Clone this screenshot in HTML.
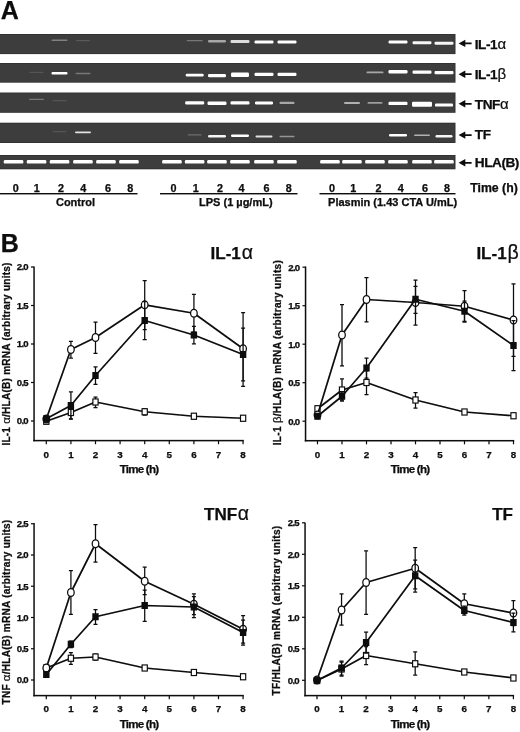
<!DOCTYPE html><html><head><meta charset="utf-8"><title>Figure</title>
<style>html,body{margin:0;padding:0;background:#fff;}body{width:520px;height:732px;overflow:hidden;}svg{display:block;}text{font-family:"Liberation Sans",sans-serif;fill:#0a0a0a;stroke:#0a0a0a;stroke-width:0.25px;}.b{font-weight:bold;}.g{font-weight:normal;stroke-width:0.2px;}</style></head><body>
<svg width="520" height="732" viewBox="0 0 520 732">
<defs><filter id="bl" x="-20%" y="-100%" width="140%" height="300%"><feGaussianBlur stdDeviation="0.7 0.6"/></filter><filter id="bl2" x="-5%" y="-20%" width="110%" height="140%"><feGaussianBlur stdDeviation="0.35"/></filter><filter id="tb" x="0" y="0" width="100%" height="100%" filterUnits="userSpaceOnUse"><feGaussianBlur stdDeviation="0.32"/></filter></defs>
<rect width="520" height="732" fill="#fff"/>
<g filter="url(#tb)">
<text class="b" x="0.8" y="19.1" font-size="25" stroke="#0a0a0a" stroke-width="0.5">A</text>
<rect x="0" y="34" width="455.5" height="20.1" fill="#323232"/>
<rect x="0" y="34.9" width="454.7" height="18.3" fill="#3d3d3d"/>
<rect x="0" y="63" width="455.5" height="19.700000000000003" fill="#323232"/>
<rect x="0" y="63.9" width="454.7" height="17.900000000000002" fill="#3d3d3d"/>
<rect x="0" y="92.5" width="455.5" height="20.299999999999997" fill="#323232"/>
<rect x="0" y="93.4" width="454.7" height="18.499999999999996" fill="#3d3d3d"/>
<rect x="0" y="122.7" width="455.5" height="20.299999999999997" fill="#323232"/>
<rect x="0" y="123.60000000000001" width="454.7" height="18.499999999999996" fill="#3d3d3d"/>
<rect x="0" y="155" width="455.5" height="14.300000000000011" fill="#323232"/>
<rect x="0" y="155.9" width="454.7" height="12.50000000000001" fill="#3d3d3d"/>
<rect x="51.5" y="39.50" width="16" height="1.4" rx="0.7" fill="#808080" filter="url(#bl)"/>
<rect x="76.0" y="40.00" width="14" height="1.2" rx="0.6" fill="#5a5a5a" filter="url(#bl)"/>
<rect x="186.7" y="40.05" width="16" height="1.3" rx="0.7" fill="#777777" filter="url(#bl)"/>
<rect x="208.0" y="40.00" width="18" height="2.4" rx="1.2" fill="#a7a7a7" filter="url(#bl)"/>
<rect x="230.5" y="40.10" width="19" height="2.8" rx="1.2" fill="#dcdcdc" filter="url(#bl)"/>
<rect x="254.5" y="40.50" width="19" height="3" rx="1.2" fill="#ffffff" filter="url(#bl)"/>
<rect x="277.5" y="40.50" width="19" height="3" rx="1.2" fill="#ffffff" filter="url(#bl)"/>
<rect x="388.5" y="40.50" width="19" height="3" rx="1.2" fill="#ffffff" filter="url(#bl)"/>
<rect x="412.5" y="41.30" width="19" height="3" rx="1.2" fill="#f5f5f5" filter="url(#bl)"/>
<rect x="434.5" y="41.80" width="19" height="3" rx="1.2" fill="#f5f5f5" filter="url(#bl)"/>
<rect x="29.5" y="71.80" width="14" height="1.2" rx="0.6" fill="#545454" filter="url(#bl)"/>
<rect x="51.5" y="71.90" width="16" height="2.6" rx="1.2" fill="#ffffff" filter="url(#bl)"/>
<rect x="75.5" y="72.80" width="15" height="1.4" rx="0.7" fill="#777777" filter="url(#bl)"/>
<rect x="185.7" y="73.80" width="18" height="2.6" rx="1.2" fill="#ffffff" filter="url(#bl)"/>
<rect x="208.0" y="74.00" width="18" height="3.2" rx="1.2" fill="#ffffff" filter="url(#bl)"/>
<rect x="231.0" y="72.60" width="18" height="4.4" rx="1.2" fill="#ffffff" filter="url(#bl)"/>
<rect x="254.5" y="72.70" width="19" height="3.2" rx="1.2" fill="#ffffff" filter="url(#bl)"/>
<rect x="277.5" y="72.70" width="19" height="3.2" rx="1.2" fill="#ffffff" filter="url(#bl)"/>
<rect x="366.5" y="71.50" width="17" height="1.8" rx="0.9" fill="#a7a7a7" filter="url(#bl)"/>
<rect x="388.5" y="70.10" width="19" height="3.4" rx="1.2" fill="#ffffff" filter="url(#bl)"/>
<rect x="412.5" y="70.60" width="19" height="3.2" rx="1.2" fill="#ffffff" filter="url(#bl)"/>
<rect x="434.5" y="71.10" width="19" height="3.2" rx="1.2" fill="#ffffff" filter="url(#bl)"/>
<rect x="29.0" y="98.70" width="15" height="1.4" rx="0.7" fill="#777777" filter="url(#bl)"/>
<rect x="52.5" y="100.10" width="14" height="1.2" rx="0.6" fill="#545454" filter="url(#bl)"/>
<rect x="185.2" y="101.30" width="19" height="3.2" rx="1.2" fill="#ffffff" filter="url(#bl)"/>
<rect x="207.5" y="101.50" width="19" height="3.4" rx="1.2" fill="#ffffff" filter="url(#bl)"/>
<rect x="230.5" y="101.30" width="19" height="3.2" rx="1.2" fill="#ffffff" filter="url(#bl)"/>
<rect x="255.0" y="101.40" width="18" height="3" rx="1.2" fill="#ffffff" filter="url(#bl)"/>
<rect x="279.5" y="101.70" width="15" height="2.4" rx="1.2" fill="#a7a7a7" filter="url(#bl)"/>
<rect x="344.0" y="101.90" width="16" height="2" rx="1.0" fill="#b1b1b1" filter="url(#bl)"/>
<rect x="367.5" y="102.00" width="15" height="1.8" rx="0.9" fill="#9e9e9e" filter="url(#bl)"/>
<rect x="388.5" y="101.70" width="19" height="3.4" rx="1.2" fill="#ffffff" filter="url(#bl)"/>
<rect x="412.0" y="101.70" width="20" height="5" rx="1.2" fill="#ffffff" filter="url(#bl)"/>
<rect x="435.0" y="103.40" width="18" height="3.2" rx="1.2" fill="#ffffff" filter="url(#bl)"/>
<rect x="52.5" y="131.10" width="14" height="1.2" rx="0.6" fill="#545454" filter="url(#bl)"/>
<rect x="75.0" y="131.40" width="16" height="1.8" rx="0.9" fill="#e1e1e1" filter="url(#bl)"/>
<rect x="187.7" y="134.25" width="14" height="1.3" rx="0.7" fill="#6d6d6d" filter="url(#bl)"/>
<rect x="208.0" y="135.00" width="18" height="2.4" rx="1.2" fill="#f5f5f5" filter="url(#bl)"/>
<rect x="231.0" y="134.40" width="18" height="2.6" rx="1.2" fill="#ffffff" filter="url(#bl)"/>
<rect x="255.5" y="135.40" width="17" height="2.2" rx="1.1" fill="#e1e1e1" filter="url(#bl)"/>
<rect x="279.5" y="135.70" width="15" height="1.6" rx="0.8" fill="#949494" filter="url(#bl)"/>
<rect x="389.0" y="133.90" width="18" height="2.6" rx="1.2" fill="#ffffff" filter="url(#bl)"/>
<rect x="414.0" y="134.40" width="16" height="1.6" rx="0.8" fill="#b1b1b1" filter="url(#bl)"/>
<rect x="435.5" y="135.00" width="17" height="2.4" rx="1.2" fill="#f5f5f5" filter="url(#bl)"/>
<rect x="3.8" y="160.00" width="19.5" height="3.6" rx="1.2" fill="#ffffff" filter="url(#bl)"/>
<rect x="26.8" y="160.00" width="19.5" height="3.6" rx="1.2" fill="#ffffff" filter="url(#bl)"/>
<rect x="49.8" y="160.00" width="19.5" height="3.6" rx="1.2" fill="#ffffff" filter="url(#bl)"/>
<rect x="73.2" y="160.00" width="19.5" height="3.6" rx="1.2" fill="#ffffff" filter="url(#bl)"/>
<rect x="96.2" y="160.00" width="19.5" height="3.6" rx="1.2" fill="#ffffff" filter="url(#bl)"/>
<rect x="119.2" y="160.00" width="19.5" height="3.6" rx="1.2" fill="#ffffff" filter="url(#bl)"/>
<rect x="162.2" y="160.00" width="19.5" height="3.6" rx="1.2" fill="#ffffff" filter="url(#bl)"/>
<rect x="184.9" y="160.00" width="19.5" height="3.6" rx="1.2" fill="#ffffff" filter="url(#bl)"/>
<rect x="207.2" y="160.00" width="19.5" height="3.6" rx="1.2" fill="#ffffff" filter="url(#bl)"/>
<rect x="230.2" y="160.00" width="19.5" height="3.6" rx="1.2" fill="#ffffff" filter="url(#bl)"/>
<rect x="254.2" y="160.00" width="19.5" height="3.6" rx="1.2" fill="#ffffff" filter="url(#bl)"/>
<rect x="277.2" y="160.00" width="19.5" height="3.6" rx="1.2" fill="#ffffff" filter="url(#bl)"/>
<rect x="320.2" y="160.00" width="19.5" height="3.6" rx="1.2" fill="#ffffff" filter="url(#bl)"/>
<rect x="342.2" y="160.00" width="19.5" height="3.6" rx="1.2" fill="#ffffff" filter="url(#bl)"/>
<rect x="365.2" y="160.00" width="19.5" height="3.6" rx="1.2" fill="#ffffff" filter="url(#bl)"/>
<rect x="388.2" y="160.00" width="19.5" height="3.6" rx="1.2" fill="#ffffff" filter="url(#bl)"/>
<rect x="412.2" y="160.00" width="19.5" height="3.6" rx="1.2" fill="#ffffff" filter="url(#bl)"/>
<rect x="434.2" y="160.00" width="19.5" height="3.6" rx="1.2" fill="#ffffff" filter="url(#bl)"/>
<path d="M458.6 43.4 L465.3 39.699999999999996 L465.3 42.5 L471.6 42.5 L471.6 44.3 L465.3 44.3 L465.3 47.1 Z" fill="#0a0a0a"/>
<text class="b" x="474.8" y="48.6" font-size="13.6" letter-spacing="-0.45">IL-1<tspan class="g" font-size="15" dx="0.2">α</tspan></text>
<path d="M458.6 74.2 L465.3 70.5 L465.3 73.3 L471.6 73.3 L471.6 75.10000000000001 L465.3 75.10000000000001 L465.3 77.9 Z" fill="#0a0a0a"/>
<text class="b" x="474.8" y="79.2" font-size="13.6" letter-spacing="-0.45">IL-1<tspan class="g" font-size="15" dx="0.2">β</tspan></text>
<path d="M458.6 103.8 L465.3 100.1 L465.3 102.89999999999999 L471.6 102.89999999999999 L471.6 104.7 L465.3 104.7 L465.3 107.5 Z" fill="#0a0a0a"/>
<text class="b" x="474.8" y="109.1" font-size="13.6" letter-spacing="-0.45">TNF<tspan class="g" font-size="15" dx="0.2">α</tspan></text>
<path d="M458.6 135.1 L465.3 131.4 L465.3 134.2 L471.6 134.2 L471.6 136.0 L465.3 136.0 L465.3 138.79999999999998 Z" fill="#0a0a0a"/>
<text class="b" x="474.8" y="138.8" font-size="13.6" letter-spacing="-0.45">TF<tspan class="g" font-size="15" dx="0.2"></tspan></text>
<path d="M458.6 162.8 L465.3 159.10000000000002 L465.3 161.9 L471.6 161.9 L471.6 163.70000000000002 L465.3 163.70000000000002 L465.3 166.5 Z" fill="#0a0a0a"/>
<text class="b" x="474.8" y="167.3" font-size="13.6" letter-spacing="-0.45">HLA(B)<tspan class="g" font-size="15" dx="0.2"></tspan></text>
<text class="b" x="15.8" y="191.8" font-size="10.8" text-anchor="middle">0</text>
<text class="b" x="36.8" y="191.8" font-size="10.8" text-anchor="middle">1</text>
<text class="b" x="61" y="191.8" font-size="10.8" text-anchor="middle">2</text>
<text class="b" x="83.3" y="191.8" font-size="10.8" text-anchor="middle">4</text>
<text class="b" x="108" y="191.8" font-size="10.8" text-anchor="middle">6</text>
<text class="b" x="130.2" y="191.8" font-size="10.8" text-anchor="middle">8</text>
<text class="b" x="173.6" y="191.8" font-size="10.8" text-anchor="middle">0</text>
<text class="b" x="195.8" y="191.8" font-size="10.8" text-anchor="middle">1</text>
<text class="b" x="220" y="191.8" font-size="10.8" text-anchor="middle">2</text>
<text class="b" x="241.5" y="191.8" font-size="10.8" text-anchor="middle">4</text>
<text class="b" x="266.5" y="191.8" font-size="10.8" text-anchor="middle">6</text>
<text class="b" x="288.8" y="191.8" font-size="10.8" text-anchor="middle">8</text>
<text class="b" x="332" y="191.8" font-size="10.8" text-anchor="middle">0</text>
<text class="b" x="353.2" y="191.8" font-size="10.8" text-anchor="middle">1</text>
<text class="b" x="378.6" y="191.8" font-size="10.8" text-anchor="middle">2</text>
<text class="b" x="400.8" y="191.8" font-size="10.8" text-anchor="middle">4</text>
<text class="b" x="425" y="191.8" font-size="10.8" text-anchor="middle">6</text>
<text class="b" x="447" y="191.8" font-size="10.8" text-anchor="middle">8</text>
<text class="b" x="470.2" y="191.6" font-size="12.3">Time (h)</text>
<rect x="0" y="193" width="137.5" height="1.4" fill="#0a0a0a"/>
<rect x="160" y="193" width="137.5" height="1.4" fill="#0a0a0a"/>
<rect x="319.5" y="193" width="136.0" height="1.4" fill="#0a0a0a"/>
<text class="b" x="75.5" y="206.1" font-size="11" text-anchor="middle">Control</text>
<text class="b" x="235.8" y="206.1" font-size="11" text-anchor="middle">LPS (1 µg/mL)</text>
<text class="b" x="392.6" y="206.1" font-size="11" text-anchor="middle">Plasmin (1.43 CTA U/mL)</text>
<text class="b" x="0.8" y="252.4" font-size="25" stroke="#0a0a0a" stroke-width="0.5">B</text>
<rect x="33.3" y="266.5" width="1.5" height="174.8" fill="#0a0a0a"/>
<rect x="33.3" y="439.85" width="210.50000000000003" height="1.5" fill="#0a0a0a"/>
<rect x="31" y="420.40" width="3" height="1.2" fill="#0a0a0a"/>
<text class="b" x="28" y="424.40" font-size="9.6" text-anchor="end" letter-spacing="-0.7" stroke="#0a0a0a" stroke-width="0.3">0.0</text>
<rect x="31" y="381.90" width="3" height="1.2" fill="#0a0a0a"/>
<text class="b" x="28" y="385.90" font-size="9.6" text-anchor="end" letter-spacing="-0.7" stroke="#0a0a0a" stroke-width="0.3">0.5</text>
<rect x="31" y="343.40" width="3" height="1.2" fill="#0a0a0a"/>
<text class="b" x="28" y="347.40" font-size="9.6" text-anchor="end" letter-spacing="-0.7" stroke="#0a0a0a" stroke-width="0.3">1.0</text>
<rect x="31" y="304.90" width="3" height="1.2" fill="#0a0a0a"/>
<text class="b" x="28" y="308.90" font-size="9.6" text-anchor="end" letter-spacing="-0.7" stroke="#0a0a0a" stroke-width="0.3">1.5</text>
<rect x="31" y="266.40" width="3" height="1.2" fill="#0a0a0a"/>
<text class="b" x="28" y="270.40" font-size="9.6" text-anchor="end" letter-spacing="-0.7" stroke="#0a0a0a" stroke-width="0.3">2.0</text>
<rect x="45.70" y="440.6" width="1.2" height="3.6" fill="#0a0a0a"/>
<text class="b" x="46.30" y="457.7" font-size="9.8" text-anchor="middle" stroke="#0a0a0a" stroke-width="0.3">0</text>
<rect x="70.30" y="440.6" width="1.2" height="3.6" fill="#0a0a0a"/>
<text class="b" x="70.90" y="457.7" font-size="9.8" text-anchor="middle" stroke="#0a0a0a" stroke-width="0.3">1</text>
<rect x="94.90" y="440.6" width="1.2" height="3.6" fill="#0a0a0a"/>
<text class="b" x="95.50" y="457.7" font-size="9.8" text-anchor="middle" stroke="#0a0a0a" stroke-width="0.3">2</text>
<rect x="119.50" y="440.6" width="1.2" height="3.6" fill="#0a0a0a"/>
<text class="b" x="120.10" y="457.7" font-size="9.8" text-anchor="middle" stroke="#0a0a0a" stroke-width="0.3">3</text>
<rect x="144.10" y="440.6" width="1.2" height="3.6" fill="#0a0a0a"/>
<text class="b" x="144.70" y="457.7" font-size="9.8" text-anchor="middle" stroke="#0a0a0a" stroke-width="0.3">4</text>
<rect x="168.70" y="440.6" width="1.2" height="3.6" fill="#0a0a0a"/>
<text class="b" x="169.30" y="457.7" font-size="9.8" text-anchor="middle" stroke="#0a0a0a" stroke-width="0.3">5</text>
<rect x="193.30" y="440.6" width="1.2" height="3.6" fill="#0a0a0a"/>
<text class="b" x="193.90" y="457.7" font-size="9.8" text-anchor="middle" stroke="#0a0a0a" stroke-width="0.3">6</text>
<rect x="217.90" y="440.6" width="1.2" height="3.6" fill="#0a0a0a"/>
<text class="b" x="218.50" y="457.7" font-size="9.8" text-anchor="middle" stroke="#0a0a0a" stroke-width="0.3">7</text>
<rect x="242.50" y="440.6" width="1.2" height="3.6" fill="#0a0a0a"/>
<text class="b" x="243.10" y="457.7" font-size="9.8" text-anchor="middle" stroke="#0a0a0a" stroke-width="0.3">8</text>
<text class="b" x="139" y="473.4" font-size="11.6" text-anchor="middle" letter-spacing="-0.8">Time (h)</text>
<text class="b" x="210.6" y="258.9" font-size="17">IL-1<tspan class="g" font-size="19.5" dx="0.8">α</tspan></text>
<text class="b" transform="translate(9.9,445.6) rotate(-90)" font-size="10.1" stroke="#0a0a0a" stroke-width="0.22" textLength="183.1" lengthAdjust="spacing">IL-1 <tspan class="g" font-size="11.5">α</tspan>/HLA(B) mRNA (arbitrary units)</text>
<path d="M46.30 421.25 L70.90 412.50 L95.50 402.00 L144.70 411.75 L193.90 416.25 L243.10 418.25" fill="none" stroke="#0a0a0a" stroke-width="1.7" stroke-linejoin="round"/>
<path d="M70.90 406.5 L70.90 418.75 M68.90 406.5 h4 M68.90 418.75 h4" stroke="#0a0a0a" stroke-width="1.25" fill="none"/>
<path d="M95.50 397 L95.50 407.5 M93.50 397 h4 M93.50 407.5 h4" stroke="#0a0a0a" stroke-width="1.25" fill="none"/>
<path d="M144.70 408.5 L144.70 415 M142.70 408.5 h4 M142.70 415 h4" stroke="#0a0a0a" stroke-width="1.25" fill="none"/>
<rect x="43.70" y="418.20" width="5.2" height="6.1" fill="#fff" stroke="#0a0a0a" stroke-width="1.15"/>
<rect x="68.30" y="409.45" width="5.2" height="6.1" fill="#fff" stroke="#0a0a0a" stroke-width="1.15"/>
<rect x="92.90" y="398.95" width="5.2" height="6.1" fill="#fff" stroke="#0a0a0a" stroke-width="1.15"/>
<rect x="142.10" y="408.70" width="5.2" height="6.1" fill="#fff" stroke="#0a0a0a" stroke-width="1.15"/>
<rect x="191.30" y="413.20" width="5.2" height="6.1" fill="#fff" stroke="#0a0a0a" stroke-width="1.15"/>
<rect x="240.50" y="415.20" width="5.2" height="6.1" fill="#fff" stroke="#0a0a0a" stroke-width="1.15"/>
<path d="M46.30 419.00 L70.90 349.50 L95.50 337.50 L144.70 304.80 L193.90 313.25 L243.10 348.75" fill="none" stroke="#0a0a0a" stroke-width="1.7" stroke-linejoin="round"/>
<path d="M70.90 341.25 L70.90 358 M68.90 341.25 h4 M68.90 358 h4" stroke="#0a0a0a" stroke-width="1.25" fill="none"/>
<path d="M95.50 322 L95.50 353.25 M93.50 322 h4 M93.50 353.25 h4" stroke="#0a0a0a" stroke-width="1.25" fill="none"/>
<path d="M144.70 280.5 L144.70 329.5 M142.70 280.5 h4 M142.70 329.5 h4" stroke="#0a0a0a" stroke-width="1.25" fill="none"/>
<path d="M193.90 294.25 L193.90 332 M191.90 294.25 h4 M191.90 332 h4" stroke="#0a0a0a" stroke-width="1.25" fill="none"/>
<path d="M243.10 312.5 L243.10 386.25 M241.10 312.5 h4 M241.10 386.25 h4" stroke="#0a0a0a" stroke-width="1.25" fill="none"/>
<ellipse cx="46.30" cy="419.00" rx="3.3" ry="3.9" fill="#fff" stroke="#0a0a0a" stroke-width="1.25"/>
<ellipse cx="70.90" cy="349.50" rx="3.3" ry="3.9" fill="#fff" stroke="#0a0a0a" stroke-width="1.25"/>
<ellipse cx="95.50" cy="337.50" rx="3.3" ry="3.9" fill="#fff" stroke="#0a0a0a" stroke-width="1.25"/>
<ellipse cx="144.70" cy="304.80" rx="3.3" ry="3.9" fill="#fff" stroke="#0a0a0a" stroke-width="1.25"/>
<ellipse cx="193.90" cy="313.25" rx="3.3" ry="3.9" fill="#fff" stroke="#0a0a0a" stroke-width="1.25"/>
<ellipse cx="243.10" cy="348.75" rx="3.3" ry="3.9" fill="#fff" stroke="#0a0a0a" stroke-width="1.25"/>
<path d="M46.30 418.80 L70.90 405.50 L95.50 375.50 L144.70 320.50 L193.90 335.00 L243.10 354.50" fill="none" stroke="#0a0a0a" stroke-width="1.7" stroke-linejoin="round"/>
<path d="M70.90 391.75 L70.90 419 M68.90 391.75 h4 M68.90 419 h4" stroke="#0a0a0a" stroke-width="1.25" fill="none"/>
<path d="M95.50 366.75 L95.50 384.25 M93.50 366.75 h4 M93.50 384.25 h4" stroke="#0a0a0a" stroke-width="1.25" fill="none"/>
<path d="M144.70 301.5 L144.70 339.5 M142.70 301.5 h4 M142.70 339.5 h4" stroke="#0a0a0a" stroke-width="1.25" fill="none"/>
<path d="M193.90 326.25 L193.90 343.75 M191.90 326.25 h4 M191.90 343.75 h4" stroke="#0a0a0a" stroke-width="1.25" fill="none"/>
<path d="M243.10 328 L243.10 380.75 M241.10 328 h4 M241.10 380.75 h4" stroke="#0a0a0a" stroke-width="1.25" fill="none"/>
<rect x="43.10" y="415.30" width="6.4" height="7" fill="#0a0a0a"/>
<rect x="67.70" y="402.00" width="6.4" height="7" fill="#0a0a0a"/>
<rect x="92.30" y="372.00" width="6.4" height="7" fill="#0a0a0a"/>
<rect x="141.50" y="317.00" width="6.4" height="7" fill="#0a0a0a"/>
<rect x="190.70" y="331.50" width="6.4" height="7" fill="#0a0a0a"/>
<rect x="239.90" y="351.00" width="6.4" height="7" fill="#0a0a0a"/>
<rect x="304.8" y="266.5" width="1.5" height="174.89999999999998" fill="#0a0a0a"/>
<rect x="304.8" y="439.95" width="209.4" height="1.5" fill="#0a0a0a"/>
<rect x="302.5" y="420.60" width="3" height="1.2" fill="#0a0a0a"/>
<text class="b" x="299.5" y="424.60" font-size="9.6" text-anchor="end" letter-spacing="-0.7" stroke="#0a0a0a" stroke-width="0.3">0.0</text>
<rect x="302.5" y="382.10" width="3" height="1.2" fill="#0a0a0a"/>
<text class="b" x="299.5" y="386.10" font-size="9.6" text-anchor="end" letter-spacing="-0.7" stroke="#0a0a0a" stroke-width="0.3">0.5</text>
<rect x="302.5" y="343.60" width="3" height="1.2" fill="#0a0a0a"/>
<text class="b" x="299.5" y="347.60" font-size="9.6" text-anchor="end" letter-spacing="-0.7" stroke="#0a0a0a" stroke-width="0.3">1.0</text>
<rect x="302.5" y="305.10" width="3" height="1.2" fill="#0a0a0a"/>
<text class="b" x="299.5" y="309.10" font-size="9.6" text-anchor="end" letter-spacing="-0.7" stroke="#0a0a0a" stroke-width="0.3">1.5</text>
<rect x="302.5" y="266.60" width="3" height="1.2" fill="#0a0a0a"/>
<text class="b" x="299.5" y="270.60" font-size="9.6" text-anchor="end" letter-spacing="-0.7" stroke="#0a0a0a" stroke-width="0.3">2.0</text>
<rect x="316.90" y="440.7" width="1.2" height="3.6" fill="#0a0a0a"/>
<text class="b" x="317.50" y="457.7" font-size="9.8" text-anchor="middle" stroke="#0a0a0a" stroke-width="0.3">0</text>
<rect x="341.40" y="440.7" width="1.2" height="3.6" fill="#0a0a0a"/>
<text class="b" x="342.00" y="457.7" font-size="9.8" text-anchor="middle" stroke="#0a0a0a" stroke-width="0.3">1</text>
<rect x="365.90" y="440.7" width="1.2" height="3.6" fill="#0a0a0a"/>
<text class="b" x="366.50" y="457.7" font-size="9.8" text-anchor="middle" stroke="#0a0a0a" stroke-width="0.3">2</text>
<rect x="390.40" y="440.7" width="1.2" height="3.6" fill="#0a0a0a"/>
<text class="b" x="391.00" y="457.7" font-size="9.8" text-anchor="middle" stroke="#0a0a0a" stroke-width="0.3">3</text>
<rect x="414.90" y="440.7" width="1.2" height="3.6" fill="#0a0a0a"/>
<text class="b" x="415.50" y="457.7" font-size="9.8" text-anchor="middle" stroke="#0a0a0a" stroke-width="0.3">4</text>
<rect x="439.40" y="440.7" width="1.2" height="3.6" fill="#0a0a0a"/>
<text class="b" x="440.00" y="457.7" font-size="9.8" text-anchor="middle" stroke="#0a0a0a" stroke-width="0.3">5</text>
<rect x="463.90" y="440.7" width="1.2" height="3.6" fill="#0a0a0a"/>
<text class="b" x="464.50" y="457.7" font-size="9.8" text-anchor="middle" stroke="#0a0a0a" stroke-width="0.3">6</text>
<rect x="488.40" y="440.7" width="1.2" height="3.6" fill="#0a0a0a"/>
<text class="b" x="489.00" y="457.7" font-size="9.8" text-anchor="middle" stroke="#0a0a0a" stroke-width="0.3">7</text>
<rect x="512.90" y="440.7" width="1.2" height="3.6" fill="#0a0a0a"/>
<text class="b" x="513.50" y="457.7" font-size="9.8" text-anchor="middle" stroke="#0a0a0a" stroke-width="0.3">8</text>
<text class="b" x="410" y="473.4" font-size="11.6" text-anchor="middle" letter-spacing="-0.8">Time (h)</text>
<text class="b" x="476.4" y="259.2" font-size="17">IL-1<tspan class="g" font-size="19.5" dx="0.8">β</tspan></text>
<text class="b" transform="translate(281,445.2) rotate(-90)" font-size="10.1" stroke="#0a0a0a" stroke-width="0.22" textLength="185" lengthAdjust="spacing">IL-1 <tspan class="g" font-size="11.5">β</tspan>/HLA(B) mRNA (arbitrary units)</text>
<path d="M317.50 408.75 L342.00 390.00 L366.50 382.50 L415.50 400.00 L464.50 412.00 L513.50 415.75" fill="none" stroke="#0a0a0a" stroke-width="1.7" stroke-linejoin="round"/>
<path d="M342.00 378.75 L342.00 400 M340.00 378.75 h4 M340.00 400 h4" stroke="#0a0a0a" stroke-width="1.25" fill="none"/>
<path d="M366.50 370.5 L366.50 394.5 M364.50 370.5 h4 M364.50 394.5 h4" stroke="#0a0a0a" stroke-width="1.25" fill="none"/>
<path d="M415.50 392.5 L415.50 408 M413.50 392.5 h4 M413.50 408 h4" stroke="#0a0a0a" stroke-width="1.25" fill="none"/>
<rect x="314.90" y="405.70" width="5.2" height="6.1" fill="#fff" stroke="#0a0a0a" stroke-width="1.15"/>
<rect x="339.40" y="386.95" width="5.2" height="6.1" fill="#fff" stroke="#0a0a0a" stroke-width="1.15"/>
<rect x="363.90" y="379.45" width="5.2" height="6.1" fill="#fff" stroke="#0a0a0a" stroke-width="1.15"/>
<rect x="412.90" y="396.95" width="5.2" height="6.1" fill="#fff" stroke="#0a0a0a" stroke-width="1.15"/>
<rect x="461.90" y="408.95" width="5.2" height="6.1" fill="#fff" stroke="#0a0a0a" stroke-width="1.15"/>
<rect x="510.90" y="412.70" width="5.2" height="6.1" fill="#fff" stroke="#0a0a0a" stroke-width="1.15"/>
<path d="M317.50 415.00 L342.00 335.00 L366.50 299.50 L415.50 302.50 L464.50 306.25 L513.50 320.00" fill="none" stroke="#0a0a0a" stroke-width="1.7" stroke-linejoin="round"/>
<path d="M342.00 304.5 L342.00 365.75 M340.00 304.5 h4 M340.00 365.75 h4" stroke="#0a0a0a" stroke-width="1.25" fill="none"/>
<path d="M366.50 277.5 L366.50 321.75 M364.50 277.5 h4 M364.50 321.75 h4" stroke="#0a0a0a" stroke-width="1.25" fill="none"/>
<path d="M415.50 280 L415.50 325 M413.50 280 h4 M413.50 325 h4" stroke="#0a0a0a" stroke-width="1.25" fill="none"/>
<path d="M464.50 290.5 L464.50 322 M462.50 290.5 h4 M462.50 322 h4" stroke="#0a0a0a" stroke-width="1.25" fill="none"/>
<path d="M513.50 283.75 L513.50 356.25 M511.50 283.75 h4 M511.50 356.25 h4" stroke="#0a0a0a" stroke-width="1.25" fill="none"/>
<ellipse cx="317.50" cy="415.00" rx="3.3" ry="3.9" fill="#fff" stroke="#0a0a0a" stroke-width="1.25"/>
<ellipse cx="342.00" cy="335.00" rx="3.3" ry="3.9" fill="#fff" stroke="#0a0a0a" stroke-width="1.25"/>
<ellipse cx="366.50" cy="299.50" rx="3.3" ry="3.9" fill="#fff" stroke="#0a0a0a" stroke-width="1.25"/>
<ellipse cx="415.50" cy="302.50" rx="3.3" ry="3.9" fill="#fff" stroke="#0a0a0a" stroke-width="1.25"/>
<ellipse cx="464.50" cy="306.25" rx="3.3" ry="3.9" fill="#fff" stroke="#0a0a0a" stroke-width="1.25"/>
<ellipse cx="513.50" cy="320.00" rx="3.3" ry="3.9" fill="#fff" stroke="#0a0a0a" stroke-width="1.25"/>
<path d="M317.50 416.25 L342.00 396.25 L366.50 368.00 L415.50 299.25 L464.50 311.25 L513.50 345.50" fill="none" stroke="#0a0a0a" stroke-width="1.7" stroke-linejoin="round"/>
<path d="M342.00 391.5 L342.00 401 M340.00 391.5 h4 M340.00 401 h4" stroke="#0a0a0a" stroke-width="1.25" fill="none"/>
<path d="M366.50 358 L366.50 378 M364.50 358 h4 M364.50 378 h4" stroke="#0a0a0a" stroke-width="1.25" fill="none"/>
<path d="M415.50 286.25 L415.50 313.25 M413.50 286.25 h4 M413.50 313.25 h4" stroke="#0a0a0a" stroke-width="1.25" fill="none"/>
<path d="M464.50 301 L464.50 321.25 M462.50 301 h4 M462.50 321.25 h4" stroke="#0a0a0a" stroke-width="1.25" fill="none"/>
<path d="M513.50 320.5 L513.50 370.5 M511.50 320.5 h4 M511.50 370.5 h4" stroke="#0a0a0a" stroke-width="1.25" fill="none"/>
<rect x="314.30" y="412.75" width="6.4" height="7" fill="#0a0a0a"/>
<rect x="338.80" y="392.75" width="6.4" height="7" fill="#0a0a0a"/>
<rect x="363.30" y="364.50" width="6.4" height="7" fill="#0a0a0a"/>
<rect x="412.30" y="295.75" width="6.4" height="7" fill="#0a0a0a"/>
<rect x="461.30" y="307.75" width="6.4" height="7" fill="#0a0a0a"/>
<rect x="510.30" y="342.00" width="6.4" height="7" fill="#0a0a0a"/>
<rect x="33.3" y="523" width="1.5" height="173.3" fill="#0a0a0a"/>
<rect x="33.3" y="694.85" width="210.50000000000003" height="1.5" fill="#0a0a0a"/>
<rect x="31" y="679.40" width="3" height="1.2" fill="#0a0a0a"/>
<text class="b" x="28" y="683.40" font-size="9.6" text-anchor="end" letter-spacing="-0.7" stroke="#0a0a0a" stroke-width="0.3">0.0</text>
<rect x="31" y="648.15" width="3" height="1.2" fill="#0a0a0a"/>
<text class="b" x="28" y="652.15" font-size="9.6" text-anchor="end" letter-spacing="-0.7" stroke="#0a0a0a" stroke-width="0.3">0.5</text>
<rect x="31" y="616.90" width="3" height="1.2" fill="#0a0a0a"/>
<text class="b" x="28" y="620.90" font-size="9.6" text-anchor="end" letter-spacing="-0.7" stroke="#0a0a0a" stroke-width="0.3">1.0</text>
<rect x="31" y="585.65" width="3" height="1.2" fill="#0a0a0a"/>
<text class="b" x="28" y="589.65" font-size="9.6" text-anchor="end" letter-spacing="-0.7" stroke="#0a0a0a" stroke-width="0.3">1.5</text>
<rect x="31" y="554.40" width="3" height="1.2" fill="#0a0a0a"/>
<text class="b" x="28" y="558.40" font-size="9.6" text-anchor="end" letter-spacing="-0.7" stroke="#0a0a0a" stroke-width="0.3">2.0</text>
<rect x="31" y="523.15" width="3" height="1.2" fill="#0a0a0a"/>
<text class="b" x="28" y="527.15" font-size="9.6" text-anchor="end" letter-spacing="-0.7" stroke="#0a0a0a" stroke-width="0.3">2.5</text>
<rect x="45.70" y="695.6" width="1.2" height="3.6" fill="#0a0a0a"/>
<text class="b" x="46.30" y="712" font-size="9.8" text-anchor="middle" stroke="#0a0a0a" stroke-width="0.3">0</text>
<rect x="70.30" y="695.6" width="1.2" height="3.6" fill="#0a0a0a"/>
<text class="b" x="70.90" y="712" font-size="9.8" text-anchor="middle" stroke="#0a0a0a" stroke-width="0.3">1</text>
<rect x="94.90" y="695.6" width="1.2" height="3.6" fill="#0a0a0a"/>
<text class="b" x="95.50" y="712" font-size="9.8" text-anchor="middle" stroke="#0a0a0a" stroke-width="0.3">2</text>
<rect x="119.50" y="695.6" width="1.2" height="3.6" fill="#0a0a0a"/>
<text class="b" x="120.10" y="712" font-size="9.8" text-anchor="middle" stroke="#0a0a0a" stroke-width="0.3">3</text>
<rect x="144.10" y="695.6" width="1.2" height="3.6" fill="#0a0a0a"/>
<text class="b" x="144.70" y="712" font-size="9.8" text-anchor="middle" stroke="#0a0a0a" stroke-width="0.3">4</text>
<rect x="168.70" y="695.6" width="1.2" height="3.6" fill="#0a0a0a"/>
<text class="b" x="169.30" y="712" font-size="9.8" text-anchor="middle" stroke="#0a0a0a" stroke-width="0.3">5</text>
<rect x="193.30" y="695.6" width="1.2" height="3.6" fill="#0a0a0a"/>
<text class="b" x="193.90" y="712" font-size="9.8" text-anchor="middle" stroke="#0a0a0a" stroke-width="0.3">6</text>
<rect x="217.90" y="695.6" width="1.2" height="3.6" fill="#0a0a0a"/>
<text class="b" x="218.50" y="712" font-size="9.8" text-anchor="middle" stroke="#0a0a0a" stroke-width="0.3">7</text>
<rect x="242.50" y="695.6" width="1.2" height="3.6" fill="#0a0a0a"/>
<text class="b" x="243.10" y="712" font-size="9.8" text-anchor="middle" stroke="#0a0a0a" stroke-width="0.3">8</text>
<text class="b" x="139" y="728.4" font-size="11.6" text-anchor="middle" letter-spacing="-0.8">Time (h)</text>
<text class="b" x="204" y="519.5" font-size="17">TNF<tspan class="g" font-size="19.5" dx="0.8">α</tspan></text>
<text class="b" transform="translate(9.9,704.4) rotate(-90)" font-size="10.1" stroke="#0a0a0a" stroke-width="0.22" textLength="184.6" lengthAdjust="spacing">TNF <tspan class="g" font-size="11.5">α</tspan>/HLA(B) mRNA (arbitrary units)</text>
<path d="M46.30 668.00 L70.90 658.25 L95.50 657.00 L144.70 668.00 L193.90 672.50 L243.10 676.75" fill="none" stroke="#0a0a0a" stroke-width="1.7" stroke-linejoin="round"/>
<path d="M70.90 652.5 L70.90 664.25 M68.90 652.5 h4 M68.90 664.25 h4" stroke="#0a0a0a" stroke-width="1.25" fill="none"/>
<path d="M95.50 654 L95.50 660 M93.50 654 h4 M93.50 660 h4" stroke="#0a0a0a" stroke-width="1.25" fill="none"/>
<rect x="43.70" y="664.95" width="5.2" height="6.1" fill="#fff" stroke="#0a0a0a" stroke-width="1.15"/>
<rect x="68.30" y="655.20" width="5.2" height="6.1" fill="#fff" stroke="#0a0a0a" stroke-width="1.15"/>
<rect x="92.90" y="653.95" width="5.2" height="6.1" fill="#fff" stroke="#0a0a0a" stroke-width="1.15"/>
<rect x="142.10" y="664.95" width="5.2" height="6.1" fill="#fff" stroke="#0a0a0a" stroke-width="1.15"/>
<rect x="191.30" y="669.45" width="5.2" height="6.1" fill="#fff" stroke="#0a0a0a" stroke-width="1.15"/>
<rect x="240.50" y="673.70" width="5.2" height="6.1" fill="#fff" stroke="#0a0a0a" stroke-width="1.15"/>
<path d="M46.30 668.00 L70.90 592.50 L95.50 543.75 L144.70 581.25 L193.90 604.25 L243.10 629.25" fill="none" stroke="#0a0a0a" stroke-width="1.7" stroke-linejoin="round"/>
<path d="M70.90 570.5 L70.90 614.25 M68.90 570.5 h4 M68.90 614.25 h4" stroke="#0a0a0a" stroke-width="1.25" fill="none"/>
<path d="M95.50 524.5 L95.50 562 M93.50 524.5 h4 M93.50 562 h4" stroke="#0a0a0a" stroke-width="1.25" fill="none"/>
<path d="M144.70 567 L144.70 594.5 M142.70 567 h4 M142.70 594.5 h4" stroke="#0a0a0a" stroke-width="1.25" fill="none"/>
<path d="M193.90 593.75 L193.90 614.5 M191.90 593.75 h4 M191.90 614.5 h4" stroke="#0a0a0a" stroke-width="1.25" fill="none"/>
<path d="M243.10 615.5 L243.10 643 M241.10 615.5 h4 M241.10 643 h4" stroke="#0a0a0a" stroke-width="1.25" fill="none"/>
<ellipse cx="46.30" cy="668.00" rx="3.3" ry="3.9" fill="#fff" stroke="#0a0a0a" stroke-width="1.25"/>
<ellipse cx="70.90" cy="592.50" rx="3.3" ry="3.9" fill="#fff" stroke="#0a0a0a" stroke-width="1.25"/>
<ellipse cx="95.50" cy="543.75" rx="3.3" ry="3.9" fill="#fff" stroke="#0a0a0a" stroke-width="1.25"/>
<ellipse cx="144.70" cy="581.25" rx="3.3" ry="3.9" fill="#fff" stroke="#0a0a0a" stroke-width="1.25"/>
<ellipse cx="193.90" cy="604.25" rx="3.3" ry="3.9" fill="#fff" stroke="#0a0a0a" stroke-width="1.25"/>
<ellipse cx="243.10" cy="629.25" rx="3.3" ry="3.9" fill="#fff" stroke="#0a0a0a" stroke-width="1.25"/>
<path d="M46.30 674.50 L70.90 644.25 L95.50 616.75 L144.70 605.50 L193.90 607.00 L243.10 632.50" fill="none" stroke="#0a0a0a" stroke-width="1.7" stroke-linejoin="round"/>
<path d="M70.90 641 L70.90 647.5 M68.90 641 h4 M68.90 647.5 h4" stroke="#0a0a0a" stroke-width="1.25" fill="none"/>
<path d="M95.50 609.5 L95.50 624.25 M93.50 609.5 h4 M93.50 624.25 h4" stroke="#0a0a0a" stroke-width="1.25" fill="none"/>
<path d="M144.70 590 L144.70 621.25 M142.70 590 h4 M142.70 621.25 h4" stroke="#0a0a0a" stroke-width="1.25" fill="none"/>
<path d="M193.90 596.5 L193.90 617.5 M191.90 596.5 h4 M191.90 617.5 h4" stroke="#0a0a0a" stroke-width="1.25" fill="none"/>
<path d="M243.10 620 L243.10 645 M241.10 620 h4 M241.10 645 h4" stroke="#0a0a0a" stroke-width="1.25" fill="none"/>
<rect x="43.10" y="671.00" width="6.4" height="7" fill="#0a0a0a"/>
<rect x="67.70" y="640.75" width="6.4" height="7" fill="#0a0a0a"/>
<rect x="92.30" y="613.25" width="6.4" height="7" fill="#0a0a0a"/>
<rect x="141.50" y="602.00" width="6.4" height="7" fill="#0a0a0a"/>
<rect x="190.70" y="603.50" width="6.4" height="7" fill="#0a0a0a"/>
<rect x="239.90" y="629.00" width="6.4" height="7" fill="#0a0a0a"/>
<rect x="304.3" y="522.6" width="1.5" height="173.7" fill="#0a0a0a"/>
<rect x="304.3" y="694.85" width="209.79999999999998" height="1.5" fill="#0a0a0a"/>
<rect x="302" y="679.70" width="3" height="1.2" fill="#0a0a0a"/>
<text class="b" x="299" y="683.70" font-size="9.6" text-anchor="end" letter-spacing="-0.7" stroke="#0a0a0a" stroke-width="0.3">0.0</text>
<rect x="302" y="648.20" width="3" height="1.2" fill="#0a0a0a"/>
<text class="b" x="299" y="652.20" font-size="9.6" text-anchor="end" letter-spacing="-0.7" stroke="#0a0a0a" stroke-width="0.3">0.5</text>
<rect x="302" y="616.70" width="3" height="1.2" fill="#0a0a0a"/>
<text class="b" x="299" y="620.70" font-size="9.6" text-anchor="end" letter-spacing="-0.7" stroke="#0a0a0a" stroke-width="0.3">1.0</text>
<rect x="302" y="585.20" width="3" height="1.2" fill="#0a0a0a"/>
<text class="b" x="299" y="589.20" font-size="9.6" text-anchor="end" letter-spacing="-0.7" stroke="#0a0a0a" stroke-width="0.3">1.5</text>
<rect x="302" y="553.70" width="3" height="1.2" fill="#0a0a0a"/>
<text class="b" x="299" y="557.70" font-size="9.6" text-anchor="end" letter-spacing="-0.7" stroke="#0a0a0a" stroke-width="0.3">2.0</text>
<rect x="302" y="522.20" width="3" height="1.2" fill="#0a0a0a"/>
<text class="b" x="299" y="526.20" font-size="9.6" text-anchor="end" letter-spacing="-0.7" stroke="#0a0a0a" stroke-width="0.3">2.5</text>
<rect x="316.40" y="695.6" width="1.2" height="3.6" fill="#0a0a0a"/>
<text class="b" x="317.00" y="712" font-size="9.8" text-anchor="middle" stroke="#0a0a0a" stroke-width="0.3">0</text>
<rect x="340.95" y="695.6" width="1.2" height="3.6" fill="#0a0a0a"/>
<text class="b" x="341.55" y="712" font-size="9.8" text-anchor="middle" stroke="#0a0a0a" stroke-width="0.3">1</text>
<rect x="365.50" y="695.6" width="1.2" height="3.6" fill="#0a0a0a"/>
<text class="b" x="366.10" y="712" font-size="9.8" text-anchor="middle" stroke="#0a0a0a" stroke-width="0.3">2</text>
<rect x="390.05" y="695.6" width="1.2" height="3.6" fill="#0a0a0a"/>
<text class="b" x="390.65" y="712" font-size="9.8" text-anchor="middle" stroke="#0a0a0a" stroke-width="0.3">3</text>
<rect x="414.60" y="695.6" width="1.2" height="3.6" fill="#0a0a0a"/>
<text class="b" x="415.20" y="712" font-size="9.8" text-anchor="middle" stroke="#0a0a0a" stroke-width="0.3">4</text>
<rect x="439.15" y="695.6" width="1.2" height="3.6" fill="#0a0a0a"/>
<text class="b" x="439.75" y="712" font-size="9.8" text-anchor="middle" stroke="#0a0a0a" stroke-width="0.3">5</text>
<rect x="463.70" y="695.6" width="1.2" height="3.6" fill="#0a0a0a"/>
<text class="b" x="464.30" y="712" font-size="9.8" text-anchor="middle" stroke="#0a0a0a" stroke-width="0.3">6</text>
<rect x="488.25" y="695.6" width="1.2" height="3.6" fill="#0a0a0a"/>
<text class="b" x="488.85" y="712" font-size="9.8" text-anchor="middle" stroke="#0a0a0a" stroke-width="0.3">7</text>
<rect x="512.80" y="695.6" width="1.2" height="3.6" fill="#0a0a0a"/>
<text class="b" x="513.40" y="712" font-size="9.8" text-anchor="middle" stroke="#0a0a0a" stroke-width="0.3">8</text>
<text class="b" x="410" y="728.4" font-size="11.6" text-anchor="middle" letter-spacing="-0.8">Time (h)</text>
<text class="b" x="492.2" y="519.5" font-size="17">TF<tspan class="g" font-size="19.5" dx="0.8"></tspan></text>
<text class="b" transform="translate(280.1,695.5) rotate(-90)" font-size="10.1" stroke="#0a0a0a" stroke-width="0.22" textLength="169.7" lengthAdjust="spacing">TF/HLA(B) mRNA (arbitrary units)</text>
<path d="M317.00 680.50 L341.55 669.00 L366.10 655.50 L415.20 663.75 L464.30 672.00 L513.40 678.00" fill="none" stroke="#0a0a0a" stroke-width="1.7" stroke-linejoin="round"/>
<path d="M341.55 662 L341.55 676 M339.55 662 h4 M339.55 676 h4" stroke="#0a0a0a" stroke-width="1.25" fill="none"/>
<path d="M366.10 646.5 L366.10 664.5 M364.10 646.5 h4 M364.10 664.5 h4" stroke="#0a0a0a" stroke-width="1.25" fill="none"/>
<path d="M415.20 651.75 L415.20 675 M413.20 651.75 h4 M413.20 675 h4" stroke="#0a0a0a" stroke-width="1.25" fill="none"/>
<rect x="314.40" y="677.45" width="5.2" height="6.1" fill="#fff" stroke="#0a0a0a" stroke-width="1.15"/>
<rect x="338.95" y="665.95" width="5.2" height="6.1" fill="#fff" stroke="#0a0a0a" stroke-width="1.15"/>
<rect x="363.50" y="652.45" width="5.2" height="6.1" fill="#fff" stroke="#0a0a0a" stroke-width="1.15"/>
<rect x="412.60" y="660.70" width="5.2" height="6.1" fill="#fff" stroke="#0a0a0a" stroke-width="1.15"/>
<rect x="461.70" y="668.95" width="5.2" height="6.1" fill="#fff" stroke="#0a0a0a" stroke-width="1.15"/>
<rect x="510.80" y="674.95" width="5.2" height="6.1" fill="#fff" stroke="#0a0a0a" stroke-width="1.15"/>
<path d="M317.00 680.00 L341.55 610.00 L366.10 582.50 L415.20 568.25 L464.30 603.75 L513.40 613.00" fill="none" stroke="#0a0a0a" stroke-width="1.7" stroke-linejoin="round"/>
<path d="M341.55 593.75 L341.55 625 M339.55 593.75 h4 M339.55 625 h4" stroke="#0a0a0a" stroke-width="1.25" fill="none"/>
<path d="M366.10 550.75 L366.10 614.25 M364.10 550.75 h4 M364.10 614.25 h4" stroke="#0a0a0a" stroke-width="1.25" fill="none"/>
<path d="M415.20 547.5 L415.20 588.75 M413.20 547.5 h4 M413.20 588.75 h4" stroke="#0a0a0a" stroke-width="1.25" fill="none"/>
<path d="M464.30 593.75 L464.30 613.5 M462.30 593.75 h4 M462.30 613.5 h4" stroke="#0a0a0a" stroke-width="1.25" fill="none"/>
<path d="M513.40 600.5 L513.40 625.5 M511.40 600.5 h4 M511.40 625.5 h4" stroke="#0a0a0a" stroke-width="1.25" fill="none"/>
<ellipse cx="317.00" cy="680.00" rx="3.3" ry="3.9" fill="#fff" stroke="#0a0a0a" stroke-width="1.25"/>
<ellipse cx="341.55" cy="610.00" rx="3.3" ry="3.9" fill="#fff" stroke="#0a0a0a" stroke-width="1.25"/>
<ellipse cx="366.10" cy="582.50" rx="3.3" ry="3.9" fill="#fff" stroke="#0a0a0a" stroke-width="1.25"/>
<ellipse cx="415.20" cy="568.25" rx="3.3" ry="3.9" fill="#fff" stroke="#0a0a0a" stroke-width="1.25"/>
<ellipse cx="464.30" cy="603.75" rx="3.3" ry="3.9" fill="#fff" stroke="#0a0a0a" stroke-width="1.25"/>
<ellipse cx="513.40" cy="613.00" rx="3.3" ry="3.9" fill="#fff" stroke="#0a0a0a" stroke-width="1.25"/>
<path d="M317.00 680.50 L341.55 668.00 L366.10 642.50 L415.20 575.75 L464.30 610.50 L513.40 622.50" fill="none" stroke="#0a0a0a" stroke-width="1.7" stroke-linejoin="round"/>
<path d="M341.55 661 L341.55 675 M339.55 661 h4 M339.55 675 h4" stroke="#0a0a0a" stroke-width="1.25" fill="none"/>
<path d="M366.10 632 L366.10 653 M364.10 632 h4 M364.10 653 h4" stroke="#0a0a0a" stroke-width="1.25" fill="none"/>
<path d="M415.20 560 L415.20 592 M413.20 560 h4 M413.20 592 h4" stroke="#0a0a0a" stroke-width="1.25" fill="none"/>
<path d="M464.30 606 L464.30 615 M462.30 606 h4 M462.30 615 h4" stroke="#0a0a0a" stroke-width="1.25" fill="none"/>
<path d="M513.40 613 L513.40 631.75 M511.40 613 h4 M511.40 631.75 h4" stroke="#0a0a0a" stroke-width="1.25" fill="none"/>
<rect x="313.80" y="677.00" width="6.4" height="7" fill="#0a0a0a"/>
<rect x="338.35" y="664.50" width="6.4" height="7" fill="#0a0a0a"/>
<rect x="362.90" y="639.00" width="6.4" height="7" fill="#0a0a0a"/>
<rect x="412.00" y="572.25" width="6.4" height="7" fill="#0a0a0a"/>
<rect x="461.10" y="607.00" width="6.4" height="7" fill="#0a0a0a"/>
<rect x="510.20" y="619.00" width="6.4" height="7" fill="#0a0a0a"/>
</g>
</svg></body></html>
